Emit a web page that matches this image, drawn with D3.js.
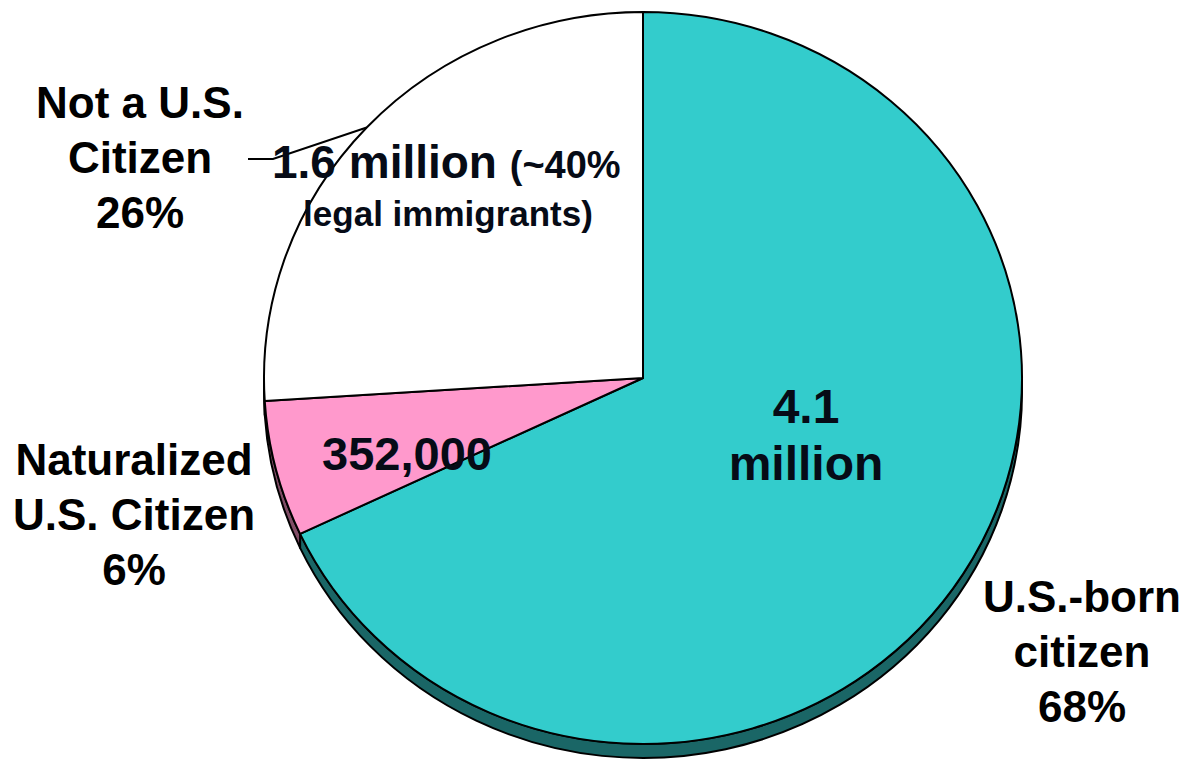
<!DOCTYPE html>
<html>
<head>
<meta charset="utf-8">
<script src="https://cdn.jsdelivr.net/npm/d3@7"></script>
<style>
	body { margin: 0; background: #fff; }
	svg { display: block; }
	text { font-family: "Liberation Sans", Arial, sans-serif; font-weight: bold; }
</style>
</head>
<body>
<svg id="chart" width="1185" height="764"></svg>
<script>
// data
const categories = ["U.S.-born citizen", "Naturalized U.S. Citizen", "Not a U.S. Citizen"];
const percents = [68, 6, 26];
const counts = ["4.1 million", "352,000", "1.6 million"];
const topColors = ["#33cccc", "#ff99cc", "#ffffff"];
const sideColors = ["#1a6666", "#804d66", "#808080"];

const svg = d3.select("#chart");
const cx = 643, cy = 378, rx = 379, ry = 366, depth = 14;

const pie = d3.pie().sort(null).value(d => d)(percents);

function pt(a, dy) {
	return [cx + rx * Math.sin(a), cy - ry * Math.cos(a) + (dy || 0)];
}

function topPath(s) {
	var p0 = pt(s.startAngle), p1 = pt(s.endAngle);
	var large = (s.endAngle - s.startAngle) > Math.PI ? 1 : 0;
	return "M" + cx + "," + cy + "L" + p0 + "A" + rx + "," + ry + " 0 " + large + " 1 " + p1 + "Z";
}

// side wall is only seen between 3 o'clock and 9 o'clock
function sidePath(s) {
	var a0 = Math.max(s.startAngle, Math.PI / 2);
	var a1 = Math.min(s.endAngle, Math.PI * 1.5);
	if (a1 <= a0) return null;
	var p0 = pt(a0), p1 = pt(a1), q0 = pt(a0, depth), q1 = pt(a1, depth);
	var large = (a1 - a0) > Math.PI ? 1 : 0;
	return "M" + p0 + "A" + rx + "," + ry + " 0 " + large + " 1 " + p1 +
		"L" + q1 + "A" + rx + "," + ry + " 0 " + large + " 0 " + q0 + "Z";
}

svg.append("g")
	.attr("class", "sides")
	.selectAll("path")
	.data(pie.filter(s => sidePath(s) !== null))
	.enter().append("path")
	.attr("d", sidePath)
	.attr("fill", d => sideColors[d.index])
	.attr("stroke", "#000")
	.attr("stroke-width", 2)
	.attr("stroke-linejoin", "round");

svg.append("g")
	.attr("class", "slices")
	.selectAll("path")
	.data(pie)
	.enter().append("path")
	.attr("d", topPath)
	.attr("fill", d => topColors[d.index])
	.attr("stroke", "#000")
	.attr("stroke-width", 2)
	.attr("stroke-linejoin", "round");

// leader line for the white slice
var white = pie[2];
var mid = pt((white.startAngle + white.endAngle) / 2);
svg.append("polyline")
	.attr("points", [mid, [273, 159], [248, 159]].map(p => p.join(",")).join(" "))
	.attr("fill", "none")
	.attr("stroke", "#000")
	.attr("stroke-width", 2);

// inner value labels
var inner = svg.append("g").attr("fill", "#060b16").attr("text-anchor", "middle");
inner.append("text").attr("x", 806).attr("y", 423).attr("font-size", 48).text(counts[0].split(" ")[0]);
inner.append("text").attr("x", 806).attr("y", 480).attr("font-size", 48).text(counts[0].split(" ")[1]);
inner.append("text").attr("x", 407).attr("y", 470).attr("font-size", 47).text(counts[1]);

var t = inner.append("text").attr("x", 272).attr("y", 178).attr("text-anchor", "start");
t.append("tspan").attr("font-size", 46).text(counts[2] + " ");
t.append("tspan").attr("font-size", 38).text("(~40%");
inner.append("text").attr("x", 448).attr("y", 226).attr("font-size", 35).text("legal immigrants)");

// outer category labels
var outerLabels = [
	{ lines: ["U.S.-born", "citizen", percents[0] + "%"], x: 1082, y: 612 },
	{ lines: ["Naturalized", "U.S. Citizen", percents[1] + "%"], x: 134, y: 475 },
	{ lines: ["Not a U.S.", "Citizen", percents[2] + "%"], x: 140, y: 118 }
];

svg.append("g")
	.attr("class", "labels")
	.selectAll("text")
	.data(outerLabels)
	.enter().append("text")
	.attr("text-anchor", "middle")
	.attr("font-size", 44)
	.attr("fill", "#000")
	.each(function(d) {
		d3.select(this).selectAll("tspan")
			.data(d.lines)
			.enter().append("tspan")
			.attr("x", d.x)
			.attr("y", (l, i) => d.y + i * 55)
			.text(l => l);
	});
</script>
</body>
</html>
